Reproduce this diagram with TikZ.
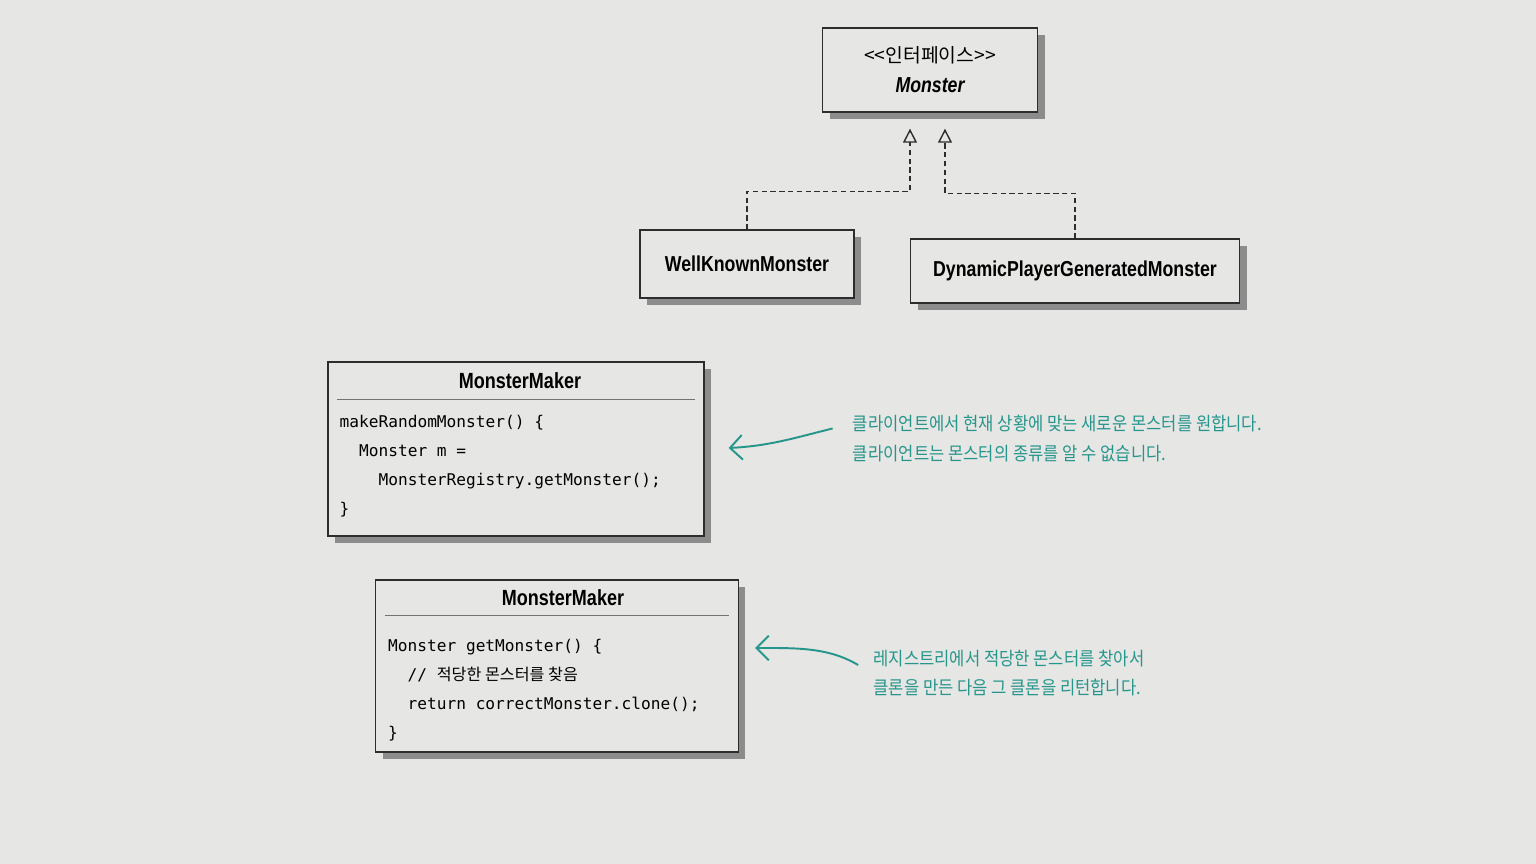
\documentclass[tikz,border=0pt]{standalone}
\usepackage{fontspec}
\setmonofont{DejaVu Sans Mono}
\newfontfamily\classfont[FakeStretch=0.82]{Liberation Sans}
\newfontfamily\krfont{Noto Sans CJK KR}
\newfontfamily\handfont[FakeStretch=0.9]{Noto Sans CJK KR}
\usetikzlibrary{arrows.meta,calc,positioning,shadows}
\definecolor{paper}{RGB}{230,230,228}
\definecolor{ink}{RGB}{45,45,45}
\definecolor{notecolor}{RGB}{38,150,140}
\tikzset{x=0.02cm, y=-0.02cm, % one unit is one pixel of the page, y runs down
classbox/.style={draw=ink, line width=0.8pt, fill=paper, drop shadow={shadow xshift=4pt, shadow yshift=-4pt, fill=black!45, opacity=1}}, % every class box
classname/.style={font=\classfont\bfseries\fontsize{12.3}{14}\selectfont}, % class names
code/.style={anchor=north west, inner sep=0pt, align=left, font=\ttfamily\fontsize{9.2}{16.5}\selectfont}, % method bodies
sepline/.style={draw=black!55, line width=0.5pt}, % line under a title
realize/.style={draw=ink, line width=0.8pt, dash pattern=on 3pt off 2pt, -{Triangle[open, length=8pt, width=8pt]}}, % interface arrows
note/.style={inner sep=0pt, align=left, text=notecolor, font=\handfont\fontsize{10.5}{17}\selectfont}, % hand notes
pointer/.style={draw=notecolor, line width=1.1pt, -{Straight Barb[length=7pt, width=14pt]}}, % note arrows
}

\begin{document}
\begin{tikzpicture}
\useasboundingbox (0,0) rectangle (1536,864);
\fill[paper] (0,0) rectangle (1536,864);

% interface and its two classes
\node[classbox, align=center, minimum width=4.3cm, minimum height=1.68cm, font=\fontsize{12}{17}\selectfont] (monster) at (930,70) {{\krfont\fontsize{11}{17}\selectfont <<인터페이스>>}\\{\classfont\bfseries\itshape\fontsize{12.3}{17}\selectfont Monster}};
\node[classbox, classname, minimum width=4.28cm, minimum height=1.36cm] (wkm) at (747,264) {WellKnownMonster};
\node[classbox, classname, minimum width=6.58cm, minimum height=1.28cm] (dpg) at (1075,271) {DynamicPlayerGeneratedMonster};
\coordinate (inL) at ($(monster.south)+(-20,16)$);
\coordinate (inR) at ($(monster.south)+(15,16)$);
\draw[realize] (wkm.north) -- ++(0,-38) -| (inL);
\draw[realize] (dpg.north) -- ++(0,-45) -| (inR);

% the two makers
\node[classbox, minimum width=7.52cm, minimum height=3.48cm] (maker1) at (516,449) {};
\node[classname, font=\classfont\bfseries\fontsize{12.5}{14}\selectfont] (title1) at ($(maker1.north)+(4,19)$) {MonsterMaker};
\draw[sepline] ($(maker1.north west)+(10,38)$) -- ($(maker1.north east)+(-10,38)$);
\node[code] (code1) at ($(maker1.north west)+(12,54)$) {makeRandomMonster() \{\\
\hphantom{00}Monster m =\\
\hphantom{0000}MonsterRegistry.getMonster();\\
\}};

\node[classbox, minimum width=7.26cm, minimum height=3.44cm] (maker2) at (557,666) {};
\node[classname, font=\classfont\bfseries\fontsize{12.5}{14}\selectfont] (title2) at ($(maker2.north)+(6,18)$) {MonsterMaker};
\draw[sepline] ($(maker2.north west)+(10,36)$) -- ($(maker2.north east)+(-10,36)$);
\node[code] (code2) at ($(maker2.north west)+(13,60)$) {Monster getMonster() \{\\
\hphantom{00}// {\krfont 적당한 몬스터를 찾음}\\
\hphantom{00}return correctMonster.clone();\\
\}};

% notes
\node[note, right=2.96cm of maker1, yshift=6pt] (note1) {클라이언트에서 현재 상황에 맞는 새로운 몬스터를 원합니다.\\클라이언트는 몬스터의 종류를 알 수 없습니다.};
\node[note, right=2.68cm of maker2, yshift=-4pt] (note2) {레지스트리에서 적당한 몬스터를 찾아서\\클론을 만든 다음 그 클론을 리턴합니다.};
\draw[pointer] ($(note1.west)+(-20,-10)$) .. controls +(-40,10) and +(40,-2) .. ($(maker1.east)+(24,-1)$);
\draw[pointer] ($(note2.west)+(-15,-8)$) .. controls +(-30,-18) and +(40,0) .. ($(maker2.east)+(16,-18)$);
\end{tikzpicture}
\end{document}
